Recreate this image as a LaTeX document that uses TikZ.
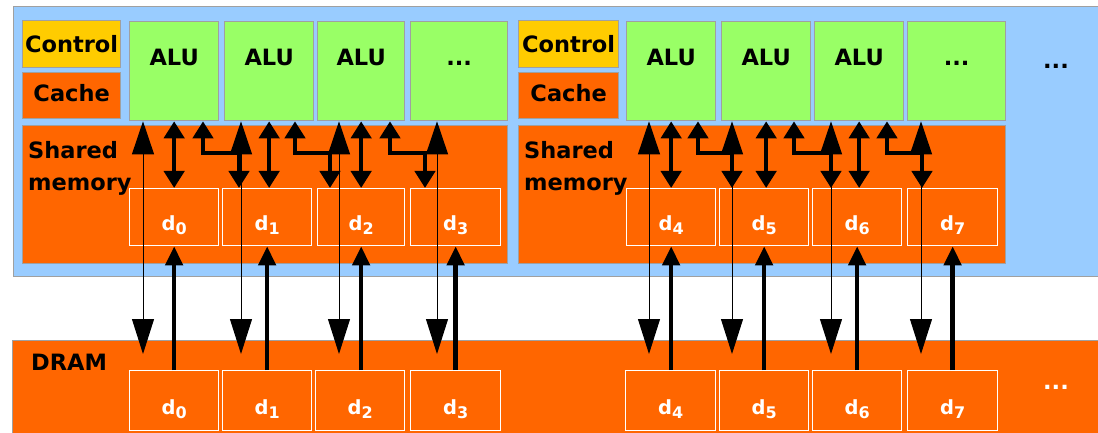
\documentclass[tikz,border=0pt]{standalone}
\usepackage{fontspec}
\setmainfont{DejaVu Sans}
\usetikzlibrary{arrows.meta}
\definecolor{gpublue}{HTML}{99CCFF}
\definecolor{orng}{HTML}{FF6600}
\definecolor{alugreen}{HTML}{99FF66}
\definecolor{ctrlyellow}{HTML}{FFCC00}
\definecolor{edgegray}{HTML}{A0A0A0}
\newcommand\dlab[1]{d\raisebox{-4pt}{\fontsize{16}{16}\selectfont #1}}
\begin{document}
\begin{tikzpicture}[x=1pt,y=-1pt,
  bigfont/.style={font=\fontsize{22.5}{26}\selectfont\bfseries},
  box/.style={draw=edgegray, line width=1.3pt, inner sep=0pt, anchor=north west, bigfont},
  ctrlbox/.style={box, fill=ctrlyellow, text height=32, text depth=15},
  cachebox/.style={box, fill=orng, text height=29, text depth=17},
  alubox/.style={box, fill=alugreen, text height=44, text depth=55},
  smbox/.style={box, fill=orng, minimum height=138},
  dbox/.style={draw=white, line width=1.3pt, inner sep=0pt, anchor=north west, text=white,
     font=\fontsize{19.5}{20}\selectfont\bfseries, text height=42, text depth=15},
  ddbox/.style={dbox, text height=44, text depth=16},
  txt/.style={inner sep=0pt, bigfont},
  thinarr/.style={line width=1pt, {Triangle[length=33pt,width=22pt]}-{Triangle[length=35pt,width=22pt]}},
  thickdbl/.style={line width=4.5pt, line join=miter, {Triangle[length=17pt,width=20pt]}-{Triangle[length=17pt,width=20pt]}},
  thickup/.style={line width=4.5pt, -{Triangle[length=19pt,width=17pt]}}
]
\useasboundingbox (0,0) rectangle (1098,433);
% backgrounds
\node[box, fill=gpublue, minimum width=1100, minimum height=270] (gpu) at (13,6) {};
\node[box, fill=orng, minimum width=1100, minimum height=100] (dram) at (12,340) {};
% left multiprocessor
\node[ctrlbox, minimum width=98] (ctrlL) at (22,20) {Control};
\node[cachebox, minimum width=98] (cacheL) at (22,72) {Cache};
\node[alubox, minimum width=89] (a0) at (129,21) {ALU};
\node[alubox, minimum width=89] (a1) at (224,21) {ALU};
\node[alubox, minimum width=87] (a2) at (317,21) {ALU};
\node[alubox, minimum width=97] (a3) at (410,21) {...};
\node[smbox, minimum width=485] (smL) at (22,125) {};
\node[txt, anchor=north west, align=left, font=\fontsize{22.5}{32}\selectfont\bfseries] (smLt) at (28,141) {Shared\\memory};
\node[dbox, minimum width=89] (sd0) at (129,188) {\dlab{0}};
\node[dbox, minimum width=89] (sd1) at (222,188) {\dlab{1}};
\node[dbox, minimum width=87] (sd2) at (317,188) {\dlab{2}};
\node[dbox, minimum width=90] (sd3) at (410,188) {\dlab{3}};
% right multiprocessor
\node[ctrlbox, minimum width=100] (ctrlR) at (518,20) {Control};
\node[cachebox, minimum width=100] (cacheR) at (518,72) {Cache};
\node[alubox, minimum width=89] (a4) at (626,21) {ALU};
\node[alubox, minimum width=89] (a5) at (721,21) {ALU};
\node[alubox, minimum width=89] (a6) at (814,21) {ALU};
\node[alubox, minimum width=98] (a7) at (907,21) {...};
\node[smbox, minimum width=487] (smR) at (518,125) {};
\node[txt, anchor=north west, align=left, font=\fontsize{22.5}{32}\selectfont\bfseries] (smRt) at (524,141) {Shared\\memory};
\node[dbox, minimum width=89] (sd4) at (626,188) {\dlab{4}};
\node[dbox, minimum width=89] (sd5) at (719,188) {\dlab{5}};
\node[dbox, minimum width=89] (sd6) at (812,188) {\dlab{6}};
\node[dbox, minimum width=90] (sd7) at (907,188) {\dlab{7}};
\node[txt, anchor=base] (moreT) at (1056,69) {...};
% DRAM
\node[txt, anchor=base west] (dramt) at (31,370) {DRAM};
\node[ddbox, minimum width=89] (dd0) at (129,370) {\dlab{0}};
\node[ddbox, minimum width=89] (dd1) at (222,370) {\dlab{1}};
\node[ddbox, minimum width=89] (dd2) at (315,370) {\dlab{2}};
\node[ddbox, minimum width=90] (dd3) at (410,370) {\dlab{3}};
\node[ddbox, minimum width=90] (dd4) at (625,370) {\dlab{4}};
\node[ddbox, minimum width=89] (dd5) at (719,370) {\dlab{5}};
\node[ddbox, minimum width=89] (dd6) at (812,370) {\dlab{6}};
\node[ddbox, minimum width=90] (dd7) at (907,370) {\dlab{7}};
\node[txt, anchor=base, text=white] (moreB) at (1056,389) {...};
% arrows
\foreach \k/\o in {0/14,1/17,2/22,3/27,4/23,5/11,6/17,7/14}
  \draw[thinarr] ([xshift=\o]a\k.south west) -- ([xshift=\o,yshift=16]a\k.south west |- dd\k.north);
\foreach \k in {0,1,2,4,5,6}
  \draw[thickdbl] (a\k.south) -- (a\k.south |- sd\k.north);
\foreach \k/\n/\p/\q in {0/1/74/17, 1/2/71/13, 2/3/73/15, 4/5/72/13, 5/6/73/19, 6/7/73/15}
  \draw[thickdbl] ([xshift=\p]a\k.south west) |- ([xshift=\q,yshift=35]sd\n.north west) -- ([xshift=\q]sd\n.north west);
\foreach \k in {0,...,7}
  \draw[thickup] (sd\k.south |- dd\k.north) -- (sd\k.south);
\end{tikzpicture}
\end{document}
